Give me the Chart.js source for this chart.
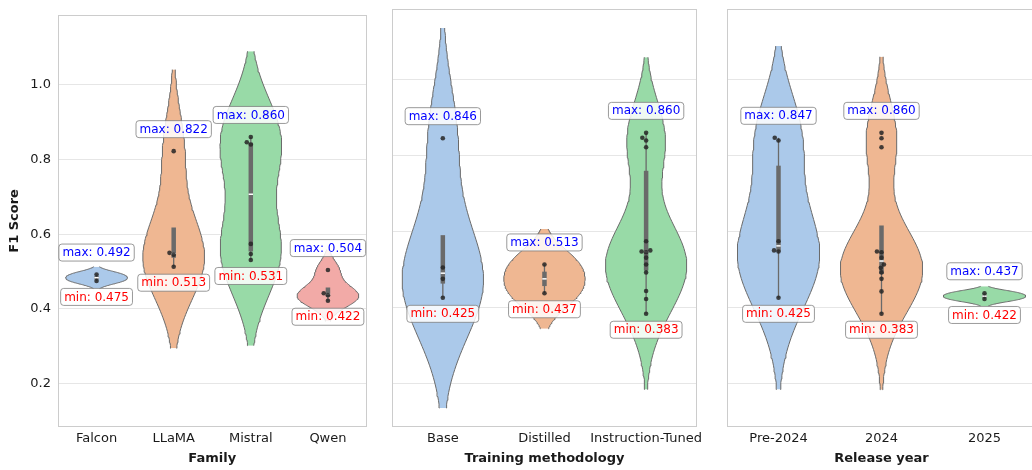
<!DOCTYPE html>
<html>
<head>
<meta charset="utf-8">
<script src="https://cdn.jsdelivr.net/npm/chart.js@4.4.1/dist/chart.umd.min.js"></script>
<style>
  html, body { margin: 0; padding: 0; background: #fff; }
  body { width: 1032px; height: 470px; overflow: hidden; position: relative; }
  canvas.panel { position: absolute; top: 0; }
</style>
</head>
<body>
<canvas id="famChart" class="panel" width="372" height="470" style="left:0px"></canvas>
<canvas id="trainChart" class="panel" width="335" height="470" style="left:372px"></canvas>
<canvas id="yearChart" class="panel" width="335" height="470" style="left:707px"></canvas>
<script>
// ================= DATA =================
const familyCats = ['Falcon', 'LLaMA', 'Mistral', 'Qwen'];
const familyScores = [
    [0.475, 0.492],
    [0.513, 0.545, 0.550, 0.822],
    [0.531, 0.547, 0.574, 0.840, 0.846, 0.860],
    [0.422, 0.437, 0.442, 0.504]
];

const trainCats = ['Base', 'Distilled', 'Instruction-Tuned'];
const trainScores = [
    [0.425, 0.475, 0.505, 0.846],
    [0.437, 0.513],
    [0.383, 0.422, 0.443, 0.492, 0.513, 0.531, 0.545, 0.547, 0.550, 0.574, 0.822, 0.840, 0.847, 0.860]
];

const yearCats = ['Pre-2024', '2024', '2025'];
const yearScores = [
    [0.425, 0.547, 0.550, 0.574, 0.840, 0.847],
    [0.383, 0.442, 0.475, 0.492, 0.504, 0.513, 0.531, 0.545, 0.547, 0.822, 0.846, 0.860],
    [0.422, 0.437]
];

const yTicks = [0.2, 0.4, 0.6, 0.8, 1.0];

// ================= STYLE =================
const PALETTE = ['#abc9ea', '#efb792', '#98daa7', '#f2aaa7']; // seaborn pastel, desaturated .75
const LINE_GRAY = '#6a6a6a';
const DOT_COLOR = 'rgba(38,38,38,0.85)';
const DOT_R = 2.3;
const FONT = '"DejaVu Sans", Verdana, sans-serif';

Chart.defaults.font.family = FONT;
Chart.defaults.font.size = 13;
Chart.defaults.color = '#1a1a1a';

// ================= STATS =================
// gaussian KDE (scott bandwidth, cut = 2), like seaborn's violinplot
function kde(vals) {
    const n = vals.length;
    const mean = vals.reduce((a, b) => a + b, 0) / n;
    const sd = Math.sqrt(vals.reduce((a, v) => a + (v - mean) ** 2, 0) / (n - 1));
    const bw = sd * Math.pow(n, -0.2);
    const lo = Math.min(...vals) - 2 * bw;
    const hi = Math.max(...vals) + 2 * bw;
    const ys = [], dens = [];
    for (let j = 0; j < 100; j++) {
        const y = lo + (hi - lo) * j / 99;
        let s = 0;
        vals.forEach(v => { s += Math.exp(-0.5 * ((y - v) / bw) ** 2); });
        ys.push(y);
        dens.push(s);
    }
    const peak = Math.max(...dens);
    return { ys, half: dens.map(d => 0.4 * d / peak), lo, hi };
}

function quantile(sorted, p) {
    const idx = (sorted.length - 1) * p;
    const a = Math.floor(idx), b = Math.ceil(idx);
    return sorted[a] + (sorted[b] - sorted[a]) * (idx - a);
}

function boxStats(vals) {
    const s = vals.slice().sort((a, b) => a - b);
    const q1 = quantile(s, 0.25), q3 = quantile(s, 0.75), med = quantile(s, 0.5);
    const iqr = q3 - q1;
    const whislo = Math.min(...s.filter(v => v >= q1 - 1.5 * iqr));
    const whishi = Math.max(...s.filter(v => v <= q3 + 1.5 * iqr));
    return { q1, q3, med, whislo, whishi };
}

// shared y range: violin extent + 5% margin
const allGroups = [...familyScores, ...trainScores, ...yearScores];
const extLo = Math.min(...allGroups.map(g => kde(g).lo));
const extHi = Math.max(...allGroups.map(g => kde(g).hi));
const Y_MIN = extLo - 0.05 * (extHi - extLo);
const Y_MAX = extHi + 0.05 * (extHi - extLo);

// ================= DATASETS =================
function buildDatasets(groups) {
    const ds = [];
    groups.forEach((vals, i) => {
        const k = kde(vals);
        const st = boxStats(vals);
        ds.push({
            type: 'line', data: k.ys.map((y, j) => ({ x: i + k.half[j], y })),
            borderColor: LINE_GRAY, borderWidth: 1, backgroundColor: PALETTE[i],
            fill: '+1', pointRadius: 0, order: 6
        });
        ds.push({
            type: 'line', data: k.ys.map((y, j) => ({ x: i - k.half[j], y })),
            borderColor: LINE_GRAY, borderWidth: 1, fill: false, pointRadius: 0, order: 6
        });
        ds.push({
            type: 'line', data: [{ x: i, y: st.whislo }, { x: i, y: st.whishi }],
            borderColor: LINE_GRAY, borderWidth: 1.3, fill: false, pointRadius: 0, order: 5
        });
        ds.push({
            type: 'line', data: [{ x: i, y: st.q1 }, { x: i, y: st.q3 }],
            borderColor: LINE_GRAY, borderWidth: 4.5, borderCapStyle: 'butt', fill: false, pointRadius: 0, order: 4
        });
        ds.push({
            type: 'scatter', data: [{ x: i, y: st.med }],
            pointStyle: 'line', pointRadius: 2.2, borderColor: '#ffffff', borderWidth: 1.5, order: 3
        });
        ds.push({
            type: 'scatter', swarmCat: i,
            data: vals.slice().sort((a, b) => a - b).map(v => ({ x: i, y: v })),
            pointRadius: DOT_R, backgroundColor: DOT_COLOR, borderWidth: 0, order: 1
        });
    });
    return ds;
}

// ================= PLUGINS =================
const frame = {
    id: 'frame',
    beforeDatasetsDraw(chart) {
        const { ctx, chartArea: a } = chart;
        ctx.save();
        ctx.strokeStyle = '#cccccc';
        ctx.lineWidth = 1;
        ctx.strokeRect(Math.round(a.left) + 0.5, Math.round(a.top) + 0.5,
            Math.round(a.right - a.left) - 1, Math.round(a.bottom - a.top) - 1);
        ctx.restore();
    }
};

function drawTag(ctx, cx, cy, text, color) {
    const w = ctx.measureText(text).width + 7;
    const h = 17;
    ctx.beginPath();
    ctx.roundRect(cx - w / 2, cy - h / 2, w, h, 3);
    ctx.fillStyle = 'rgba(255,255,255,0.85)';
    ctx.fill();
    ctx.strokeStyle = 'rgba(120,120,120,0.75)';
    ctx.lineWidth = 1;
    ctx.stroke();
    ctx.fillStyle = color;
    ctx.fillText(text, cx, cy + 0.5);
}

const minMaxTags = {
    id: 'minMaxTags',
    afterDatasetsDraw(chart, args, opts) {
        const { ctx, scales: { x, y } } = chart;
        ctx.save();
        ctx.font = '12px ' + FONT;
        ctx.textAlign = 'center';
        ctx.textBaseline = 'middle';
        opts.groups.forEach((vals, i) => {
            const hi = Math.max(...vals), lo = Math.min(...vals);
            const px = x.getPixelForValue(i);
            drawTag(ctx, px, y.getPixelForValue(hi) - 22, 'max: ' + hi.toFixed(3), '#0000ff');
            drawTag(ctx, px, y.getPixelForValue(lo) + 16, 'min: ' + lo.toFixed(3), '#ff0000');
        });
        ctx.restore();
    }
};

// beeswarm offsets for the dots, computed in pixels
function applySwarm(chart) {
    const xs = chart.scales.x, ys = chart.scales.y;
    const unit = xs.getPixelForValue(1) - xs.getPixelForValue(0);
    const d = DOT_R * 2;
    chart.data.datasets.forEach(ds => {
        if (ds.swarmCat === undefined) return;
        const placed = [];
        ds.data = ds.data.map(p => {
            const py = ys.getPixelForValue(p.y);
            const cands = [0];
            placed.forEach(q => {
                const dy = Math.abs(py - q.py);
                if (dy < d) {
                    const dx = Math.sqrt(d * d - dy * dy);
                    cands.push(q.dx - dx, q.dx + dx);
                }
            });
            cands.sort((a, b) => Math.abs(a) - Math.abs(b));
            const ok = cands.find(c => placed.every(q => Math.hypot(c - q.dx, py - q.py) >= d - 0.01));
            placed.push({ dx: ok, py });
            return { x: ds.swarmCat + ok / unit, y: p.y };
        });
    });
    chart.update('none');
}

// ================= CHARTS =================
function makePanel(id, cats, groups, axisTitle, showY, padding) {
    const chart = new Chart(document.getElementById(id), {
        type: 'line',
        data: { datasets: buildDatasets(groups) },
        options: {
            indexAxis: 'y',
            responsive: false,
            animation: false,
            devicePixelRatio: 1,
            events: [],
            layout: { padding },
            plugins: {
                legend: { display: false },
                tooltip: { enabled: false },
                filler: { drawTime: 'beforeDatasetsDraw' },
                minMaxTags: { groups }
            },
            scales: {
                x: {
                    type: 'linear',
                    min: -0.5,
                    max: cats.length - 0.5,
                    grid: { display: false, drawTicks: false },
                    border: { display: false },
                    afterBuildTicks: s => { s.ticks = cats.map((c, i) => ({ value: i })); },
                    afterFit: s => { s.height = 43; },
                    ticks: { autoSkip: false, maxRotation: 0, padding: 4, callback: v => cats[v] },
                    title: {
                        display: true, text: axisTitle,
                        font: { weight: 'bold', size: 13 },
                        padding: { top: 0, bottom: 4 }
                    }
                },
                y: {
                    type: 'linear',
                    min: Y_MIN,
                    max: Y_MAX,
                    grid: { color: '#e6e6e6', lineWidth: 1, drawTicks: false },
                    border: { display: false },
                    afterBuildTicks: s => { s.ticks = yTicks.map(v => ({ value: v })); },
                    afterFit: s => { s.width = showY ? 58 : 0; },
                    ticks: { display: showY, padding: 7, callback: v => v.toFixed(1) },
                    title: {
                        display: showY, text: 'F1 Score',
                        font: { weight: 'bold', size: 13 },
                        padding: { top: 7, bottom: 0 }
                    }
                }
            }
        },
        plugins: [frame, minMaxTags]
    });
    applySwarm(chart);
    return chart;
}

function init() {
    makePanel('famChart', familyCats, familyScores, 'Family', true, { left: 0, right: 5, top: 9, bottom: 0 });
    makePanel('trainChart', trainCats, trainScores, 'Training methodology', false, { left: 20, right: 6, top: 9, bottom: 0 });
    makePanel('yearChart', yearCats, yearScores, 'Release year', false, { left: 20, right: 6, top: 9, bottom: 0 });
}

window.addEventListener('DOMContentLoaded', init);
</script>
</body>
</html>
